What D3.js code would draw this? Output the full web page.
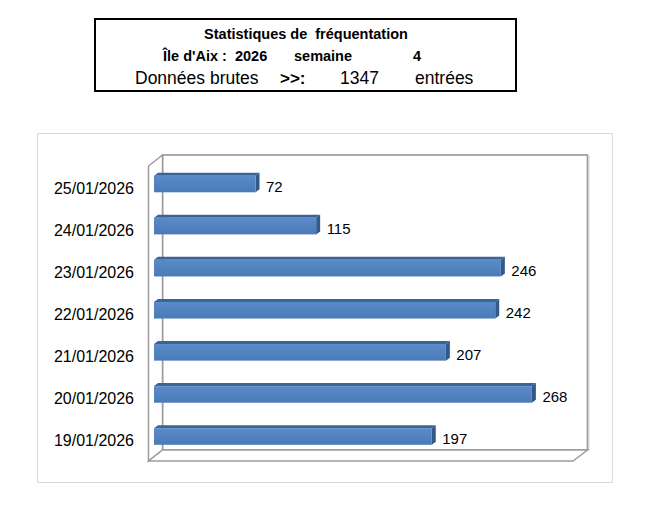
<!DOCTYPE html>
<html><head><meta charset="utf-8">
<script src="https://cdn.jsdelivr.net/npm/d3@7/dist/d3.min.js"></script>
<style>body{margin:0;background:#fff}svg{display:block}</style>
</head><body>
<svg id="c" width="653" height="512"></svg>
<script>
const categories = ["25/01/2026","24/01/2026","23/01/2026","22/01/2026","21/01/2026","20/01/2026","19/01/2026"];
const values = [72,115,246,242,207,268,197];
const xDomain = [0,300];
const titleLine1 = "Statistiques de\u00a0\u00a0fréquentation";
const titleLine2 = ["Île d'Aix :\u00a0\u00a02026","semaine","4"];
const titleLine3 = ["Données brutes",">>:","1347","entrées"];

const svg = d3.select("#c");
const font = "'Liberation Sans', Arial, sans-serif";

// Title box
svg.append("rect").attr("x",95).attr("y",19).attr("width",421).attr("height",72)
  .attr("fill","#fff").attr("stroke","#000").attr("stroke-width",2);
svg.append("text").attr("x",306).attr("y",38.5).attr("text-anchor","middle")
  .attr("font-family",font).attr("font-weight","bold").attr("font-size",14.5).text(titleLine1);
const l2x=[163,294,413];
titleLine2.forEach((t,i)=>svg.append("text").attr("x",l2x[i]).attr("y",61)
  .attr("font-family",font).attr("font-weight","bold").attr("font-size",14.5).text(t));
const l3x=[135,280,340,415];
titleLine3.forEach((t,i)=>svg.append("text").attr("x",l3x[i]).attr("y",83.5)
  .attr("font-family",font).attr("font-weight",i===1?"bold":"normal").attr("font-size",i===1?17:17.5).text(t));

// Chart area border
svg.append("rect").attr("x",37.5).attr("y",133.5).attr("width",575).attr("height",349)
  .attr("fill","#fff").attr("stroke","#d9d9d9").attr("stroke-width",1);

const x = d3.scaleLinear().domain(xDomain).range([154,577]);
const y = d3.scalePoint().domain(categories).range([184,436.5]);

// 3D box
const DX=14, DY=-11;
const fL = x(0)-5.5, fR = x(xDomain[1])-4, fT=166, fB=461;
const bL = fL+DX, bR = fR+DX+0.5, bT = fT+DY, bB = fB+DY;
const wallStroke="#9c9c9c";
const defs = svg.append("defs");
const g = defs.append("linearGradient").attr("id","bg").attr("x1",0).attr("y1",0).attr("x2",0).attr("y2",1);
g.append("stop").attr("offset","0%").attr("stop-color","#5a8bc8");
g.append("stop").attr("offset","100%").attr("stop-color","#4b7bb6");

// back wall
svg.append("rect").attr("x",bL).attr("y",bT).attr("width",bR-bL).attr("height",bB-bT)
  .attr("fill","#fff").attr("stroke",wallStroke).attr("stroke-width",1.7);
svg.append("line").attr("x1",bR+1.5).attr("x2",bR+1.5).attr("y1",bT+1).attr("y2",bB)
  .attr("stroke","#d0d0d0").attr("stroke-width",1);
// left wall
svg.append("polygon").attr("points",[[fL,fT],[bL,bT],[bL,bB],[fL,fB]].join(" "))
  .attr("fill","#fff").attr("stroke",wallStroke).attr("stroke-width",1.5);
// floor
svg.append("polygon").attr("points",[[fL,fB],[bL,bB],[bR,bB],[fR,fB]].join(" "))
  .attr("fill","#fff").attr("stroke",wallStroke).attr("stroke-width",1.5);

// bars
const bh = 16.6, ddx=4, ddy=-3;
const bars = svg.append("g").selectAll("g").data(categories.map((c,i)=>({c,v:values[i]}))).join("g");
bars.append("polygon").attr("points",d=>{const x0=x(0),x1=x(d.v),t=y(d.c)-bh/2;
  return [[x0,t],[x0+ddx,t+ddy],[x1+ddx,t+ddy],[x1,t]].join(" ");}).attr("fill","#3c6395");
bars.append("polygon").attr("points",d=>{const x1=x(d.v),t=y(d.c)-bh/2;
  return [[x1,t],[x1+ddx,t+ddy],[x1+ddx,t+ddy+bh],[x1,t+bh]].join(" ");}).attr("fill","#33598a");
bars.append("rect").attr("x",x(0)).attr("y",d=>y(d.c)-bh/2).attr("width",d=>x(d.v)-x(0)).attr("height",bh)
  .attr("fill","url(#bg)");
bars.append("text").attr("x",d=>x(d.v)+10.5).attr("y",d=>y(d.c)+7.5)
  .attr("font-family",font).attr("font-size",15).attr("fill","#000").text(d=>d.v);

// category labels
svg.append("g").selectAll("text").data(categories).join("text")
  .attr("x",134).attr("y",d=>y(d)+9.5).attr("text-anchor","end")
  .attr("font-family",font).attr("font-size",16).attr("fill","#000").text(d=>d);
</script>
</body></html>
